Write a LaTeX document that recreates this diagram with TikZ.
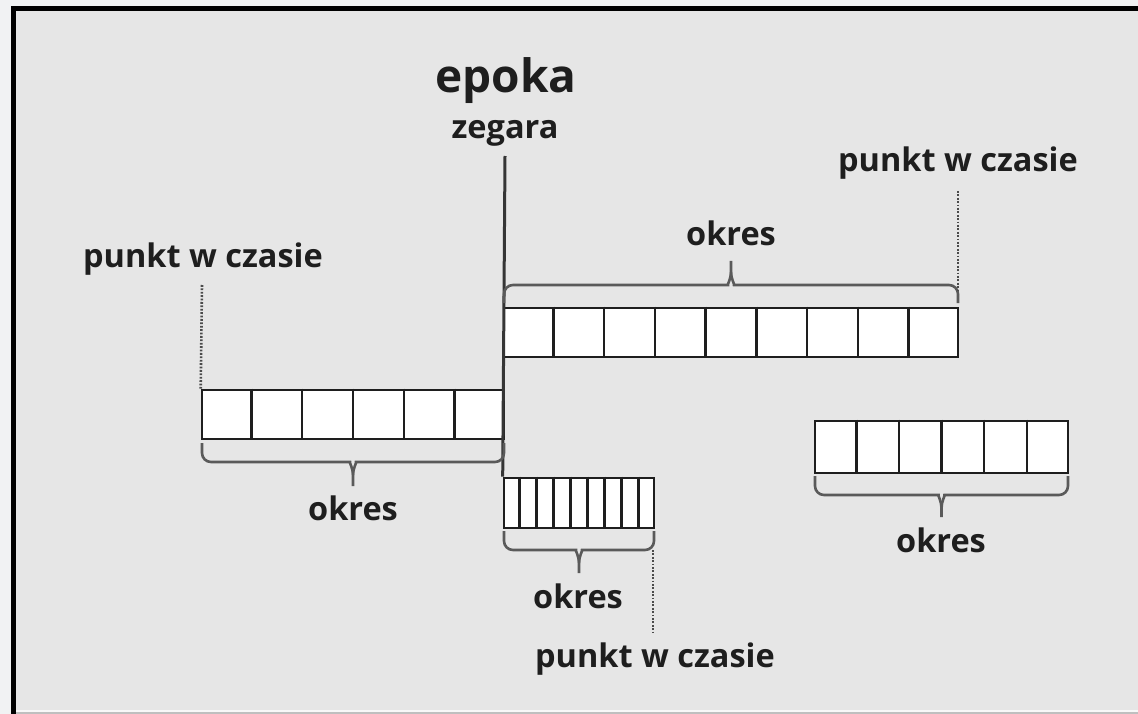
\documentclass[tikz,border=0pt]{standalone}
\usepackage{fontspec}
\setmainfont{Open Sans}
\usetikzlibrary{calc}
\definecolor{outer}{HTML}{F1F2F3}
\definecolor{bg}{HTML}{E6E6E6}
\definecolor{ink}{HTML}{1E1E1E}
\definecolor{brc}{HTML}{5A5A5A}
\newcommand{\lbl}{\bfseries\fontsize{32.5}{38}\selectfont}
\newcommand{\mybracedown}[5]{% x0, x1, ystart, yh, ytip
  \draw[brcline] (#1,#3) [rounded corners=9pt] -- (#1,#4) -- ({(#1+#2)/2-12},#4) [sharp corners]
     .. controls ({(#1+#2)/2-4},#4) and ({(#1+#2)/2},{#4+6}) .. ({(#1+#2)/2},{#4+13}) -- ({(#1+#2)/2},#5);
  \draw[brcline] (#2,#3) [rounded corners=9pt] -- (#2,#4) -- ({(#1+#2)/2+12},#4) [sharp corners]
     .. controls ({(#1+#2)/2+4},#4) and ({(#1+#2)/2},{#4+6}) .. ({(#1+#2)/2},{#4+13});
}
\newcommand{\mybraceup}[5]{% x0, x1, ystart, yh, ytip
  \draw[brcline] (#1,#3) [rounded corners=9pt] -- (#1,#4) -- ({(#1+#2)/2-12},#4) [sharp corners]
     .. controls ({(#1+#2)/2-4},#4) and ({(#1+#2)/2},{#4-6}) .. ({(#1+#2)/2},{#4-13}) -- ({(#1+#2)/2},#5);
  \draw[brcline] (#2,#3) [rounded corners=9pt] -- (#2,#4) -- ({(#1+#2)/2+12},#4) [sharp corners]
     .. controls ({(#1+#2)/2+4},#4) and ({(#1+#2)/2},{#4-6}) .. ({(#1+#2)/2},{#4-13});
}
\begin{document}
\begin{tikzpicture}[x=1pt,y=-1pt,
  bar/.style={draw=ink, fill=white, line width=2.6pt, inner sep=0pt, rectangle},
  cellline/.style={draw=ink, line width=2.4pt},
  brcline/.style={draw=brc, line width=2.6pt},
  dots/.style={draw=ink!80, line width=2.6pt, dash pattern=on 1.8pt off 1.6pt},
  epochline/.style={draw=ink!90, line width=3pt},
  txt/.style={anchor=base, inner sep=0pt, text=ink, font=\lbl}]
\useasboundingbox (0,0) rectangle (1138,714);
\fill[outer] (0,0) rectangle (1138,714);
\fill[bg] (16,11) rectangle (1138,711);
\fill[white!70!bg] (16,710) rectangle (1138,712);
\fill[black!25] (16,712) rectangle (1138,714);
\fill[black] (11,6) rectangle (1138,11);
\fill[black] (11,6) rectangle (16,714);

% bars
\node[bar, minimum width=454pt, minimum height=49pt] (top) at (731,332.5) {};
\node[bar, minimum width=302pt, minimum height=49pt] (left) at (353,414.5) {};
\node[bar, minimum width=150pt, minimum height=50pt] (small) at (579,503) {};
\node[bar, minimum width=253pt, minimum height=52pt] (right) at (941.5,447) {};
\foreach \i in {1,...,8}
  \draw[cellline] ($(top.north west)!\i/9!(top.north east)$) -- ($(top.south west)!\i/9!(top.south east)$);
\foreach \i in {1,...,5}
  \draw[cellline] ($(left.north west)!\i/6!(left.north east)$) -- ($(left.south west)!\i/6!(left.south east)$);
\foreach \i in {1,...,8}
  \draw[cellline] ($(small.north west)!\i/9!(small.north east)$) -- ($(small.south west)!\i/9!(small.south east)$);
\foreach \i in {1,...,5}
  \draw[cellline] ($(right.north west)!\i/6!(right.north east)$) -- ($(right.south west)!\i/6!(right.south east)$);

% epoch
\node[txt, font=\bfseries\fontsize{46}{52}\selectfont] (epoka) at (506,93) {epoka};
\node[txt] (zegara) at (505,139) {zegara};
\coordinate (etop) at (505,156);
\draw[epochline] (etop) -- (small.north west);

% braces
\mybraceup{504}{958}{303}{285}{261}
\mybracedown{202}{504}{443}{462}{486}
\mybracedown{504}{654}{531}{550}{573}
\mybracedown{815}{1068}{476}{495}{517}

% labels
\node[txt] (o1) at (731,246) {okres};
\node[txt] (o2) at (353,520) {okres};
\node[txt] (o3) at (578,608) {okres};
\node[txt] (o4) at (941,552) {okres};
\node[txt] (p1) at (203,267) {punkt w czasie};
\node[txt] (p2) at (958,172) {punkt w czasie};
\node[txt] (p3) at (655,667) {punkt w czasie};

% dotted markers
\coordinate (d1) at (202,285);
\coordinate (d2) at (958,191);
\coordinate (d3a) at (653,550);
\coordinate (d3b) at (653,632);
\draw[dots] (d1) -- (left.north west);
\draw[dots] (d2) -- (958,292);
\draw[dots] (d3a) -- (d3b);
\end{tikzpicture}
\end{document}
